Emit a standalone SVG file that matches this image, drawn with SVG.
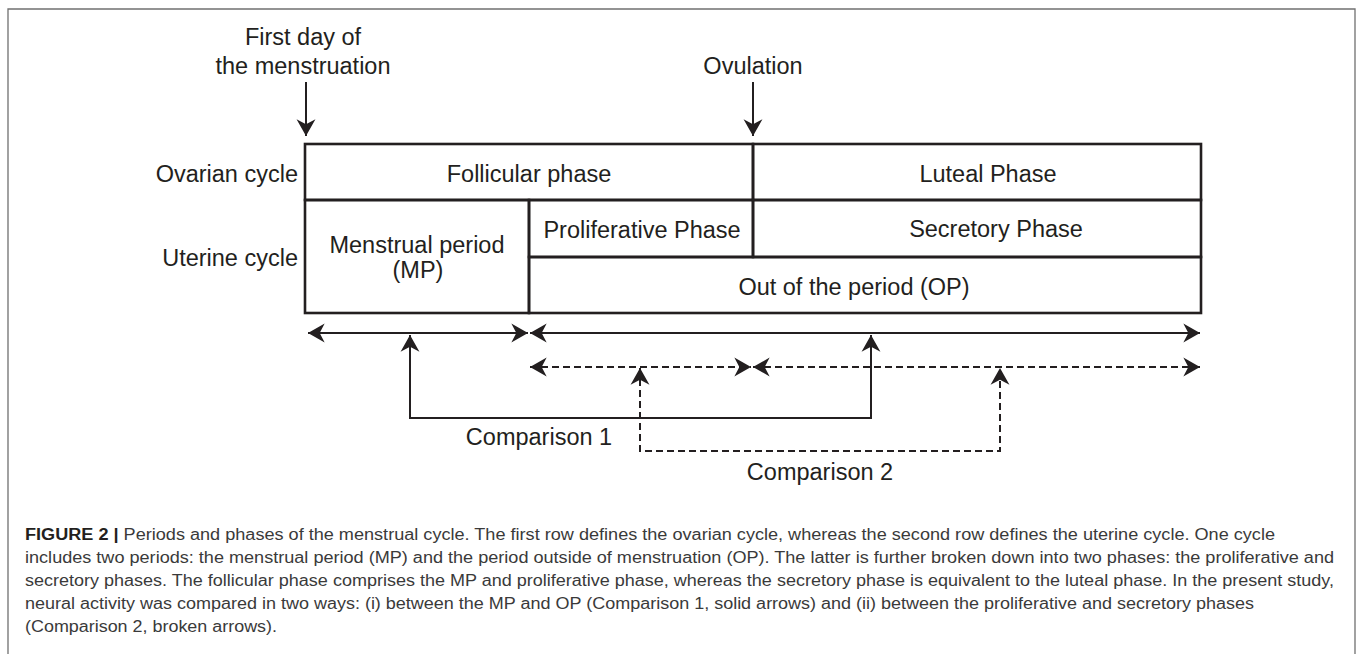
<svg xmlns="http://www.w3.org/2000/svg" width="1357" height="654" viewBox="0 0 1357 654">
<defs>
<style>
.lbl{font-family:"Liberation Sans",Arial,sans-serif;font-size:23.5px;fill:#231f20}
.mid{text-anchor:middle}
.end{text-anchor:end}
.cell{fill:none;stroke:#231f20;stroke-width:2.6}
.conn{fill:none;stroke:#231f20;stroke-width:2}
.dash{stroke-dasharray:7 4}
.cap{font-family:"Liberation Sans",Arial,sans-serif;font-size:16px;fill:#3a3a3a}
</style>
<marker id="ah" markerUnits="userSpaceOnUse" markerWidth="20" markerHeight="20" viewBox="-16 -9 18 18" refX="0" refY="0" orient="auto-start-reverse">
<path d="M0,0 L-15,-8.5 L-10.5,0 L-15,8.5 Z" fill="#231f20"/>
</marker>
</defs>
<rect width="1357" height="654" fill="#fff"/>
<path d="M8,660 V9 H1355 V660" fill="none" stroke="#707070" stroke-width="1.3"/>

<g id="label-first-day">
<text class="lbl mid" x="303" y="45">First day of</text>
<text class="lbl mid" x="303" y="74">the menstruation</text>
</g>
<g id="label-ovulation">
<text class="lbl mid" x="753" y="74">Ovulation</text>
</g>
<g id="label-ovarian">
<text class="lbl end" x="298" y="182">Ovarian cycle</text>
</g>
<g id="label-uterine">
<text class="lbl end" x="298" y="266">Uterine cycle</text>
</g>

<g id="follicular">
<rect class="cell" x="305" y="144" width="448" height="56"/>
<text class="lbl mid" x="529" y="182">Follicular phase</text>
</g>
<g id="luteal">
<rect class="cell" x="753" y="144" width="448" height="56"/>
<text class="lbl mid" x="988" y="182">Luteal Phase</text>
</g>
<g id="menstrual">
<rect class="cell" x="305" y="200" width="224" height="113"/>
<text class="lbl mid" x="417" y="253">Menstrual period</text>
<text class="lbl mid" x="418" y="278">(MP)</text>
</g>
<g id="proliferative">
<rect class="cell" x="529" y="200" width="224" height="57"/>
<text class="lbl mid" x="642" y="238">Proliferative Phase</text>
</g>
<g id="secretory">
<rect class="cell" x="753" y="200" width="448" height="57"/>
<text class="lbl mid" x="996" y="237">Secretory Phase</text>
</g>
<g id="out-of-period">
<rect class="cell" x="529" y="257" width="672" height="56"/>
<text class="lbl mid" x="854" y="295">Out of the period (OP)</text>
</g>

<g id="connectors">
<line class="conn" x1="306" y1="82" x2="306" y2="136" marker-end="url(#ah)"/>
<line class="conn" x1="753" y1="82" x2="753" y2="136" marker-end="url(#ah)"/>
<line class="conn" x1="308" y1="333" x2="528" y2="333" marker-start="url(#ah)" marker-end="url(#ah)"/>
<line class="conn" x1="530" y1="333" x2="1200" y2="333" marker-start="url(#ah)" marker-end="url(#ah)"/>
<line class="conn dash" x1="530" y1="367" x2="751" y2="367" marker-start="url(#ah)" marker-end="url(#ah)"/>
<line class="conn dash" x1="753" y1="367" x2="1200" y2="367" marker-start="url(#ah)" marker-end="url(#ah)"/>
<path class="conn" d="M410,335 V418 H871 V335" marker-start="url(#ah)" marker-end="url(#ah)"/>
<path class="conn dash" d="M640,368 V451 H1000 V368" marker-start="url(#ah)" marker-end="url(#ah)"/>
</g>
<g id="label-comparison1">
<text class="lbl mid" x="539" y="445">Comparison 1</text>
</g>
<g id="label-comparison2">
<text class="lbl mid" x="820" y="480">Comparison 2</text>
</g>

<g id="caption">
<text class="cap" x="25" y="540" textLength="1250" lengthAdjust="spacingAndGlyphs"><tspan font-weight="bold" fill="#231f20">FIGURE 2 |</tspan> Periods and phases of the menstrual cycle. The first row defines the ovarian cycle, whereas the second row defines the uterine cycle. One cycle</text>
<text class="cap" x="25" y="563" textLength="1309" lengthAdjust="spacingAndGlyphs">includes two periods: the menstrual period (MP) and the period outside of menstruation (OP). The latter is further broken down into two phases: the proliferative and</text>
<text class="cap" x="25" y="586" textLength="1309" lengthAdjust="spacingAndGlyphs">secretory phases. The follicular phase comprises the MP and proliferative phase, whereas the secretory phase is equivalent to the luteal phase. In the present study,</text>
<text class="cap" x="25" y="609" textLength="1229" lengthAdjust="spacingAndGlyphs">neural activity was compared in two ways: (i) between the MP and OP (Comparison 1, solid arrows) and (ii) between the proliferative and secretory phases</text>
<text class="cap" x="25" y="632" textLength="252" lengthAdjust="spacingAndGlyphs">(Comparison 2, broken arrows).</text>
</g>
</svg>
